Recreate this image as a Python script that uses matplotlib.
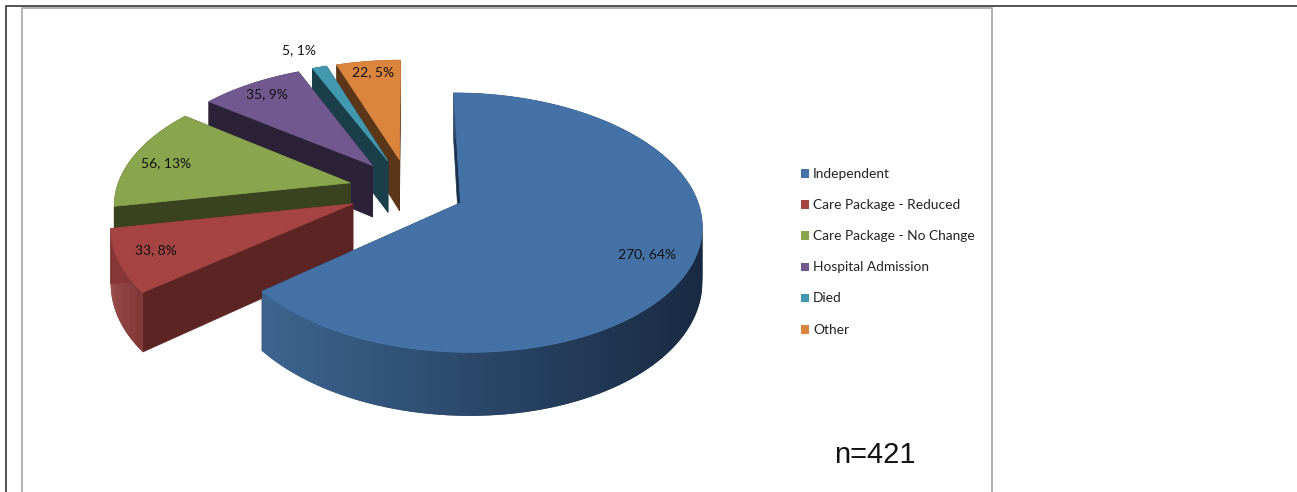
"""plot.py - exploded 3D-look pie of discharge outcomes, drawn in pixel coordinates."""
import numpy as np
import matplotlib; matplotlib.use("Agg")
import matplotlib.pyplot as plt
from matplotlib.patches import Polygon, Rectangle
from matplotlib.colors import to_rgb

categories = ["Independent", "Care Package - Reduced", "Care Package - No Change",
              "Hospital Admission", "Died", "Other"]
values = [270, 33, 56, 35, 5, 22]
percents = [64, 8, 13, 9, 1, 5]
top_colors = ["#4471a6", "#a54442", "#89a54e", "#71588f", "#4198af", "#db843d"]
face_colors = ["#1c3350", "#5c2423", "#3a431f", "#2c2238", "#1a3e4a", "#5c3618"]
wall_left = ["#3d6590", "#8f3b39", "#3a431f", "#2c2238", "#1a3e4a", "#5c3618"]
wall_right = ["#182a42", "#7f3735", "#3a431f", "#2c2238", "#1a3e4a", "#5c3618"]
explode = [0.24, 0.26, 0.26, 0.26, 0.26, 0.26]
label_pos = [(647, 254), (156, 250), (166, 163), (267, 94), (299, 50), (373, 72)]
n_label = "n=421"

# projection of the pie plane onto the page
CX, CY, R, SQ, PERSP, DEPTH = 409, 190, 234, 0.525, 0.15, 53


def proj(wx, wy, z=0.0):
    s = 1 / (1 - PERSP * wy)
    return CX + R * wx * s, CY + R * SQ * wy * s + z * s


def mix(a, b, t):
    a, b = np.array(to_rgb(a)), np.array(to_rgb(b))
    return tuple(a + (b - a) * t)


fig = plt.figure(figsize=(12.97, 4.92), dpi=100)
ax = fig.add_axes([0, 0, 1, 1])
ax.set_xlim(0, 1297); ax.set_ylim(492, 0); ax.axis("off")

# page table + chart box
ax.plot([5.5, 5.5, 1297], [492, 5.5, 5.5], color="#444444", lw=1.3)
ax.plot([21.5, 21.5, 991.5, 991.5], [492, 7.5, 7.5, 492], color="#aaaaaa", lw=1.3)

total = sum(values)
ends = np.cumsum(values) / total * 2 * np.pi
starts = np.r_[0, ends[:-1]]

# far slices first, the big one last
for i in [5, 4, 3, 2, 1, 0]:
    a0, a1 = starts[i], ends[i]
    mid = (a0 + a1) / 2
    ox, oy = explode[i] * np.sin(mid), -explode[i] * np.cos(mid)
    th = np.linspace(a0, a1, 120)
    wx, wy = ox + np.sin(th), oy - np.cos(th)
    # radial faces
    for a in (a0, a1):
        ex, ey = ox + np.sin(a), oy - np.cos(a)
        quad = [proj(ox, oy), proj(ex, ey), proj(ex, ey, DEPTH), proj(ox, oy, DEPTH)]
        ax.add_patch(Polygon(quad, closed=True, fc=face_colors[i], ec=face_colors[i], lw=0.5))
    # outer wall, shaded left to right; each strip overlaps the next so no seams show
    xs_all = proj(wx, wy)[0]
    for k in range(len(th) - 1):
        k2 = min(k + 2, len(th) - 1)
        quad = [proj(wx[k], wy[k]), proj(wx[k2], wy[k2]),
                proj(wx[k2], wy[k2], DEPTH), proj(wx[k], wy[k], DEPTH)]
        t = (xs_all[k] - xs_all.min()) / max(xs_all.max() - xs_all.min(), 1)
        c = mix(wall_left[i], wall_right[i], t)
        ax.add_patch(Polygon(quad, closed=True, fc=c, ec="none"))
    # top
    tx, ty = proj(np.r_[ox, wx], np.r_[oy, wy])
    ax.add_patch(Polygon(np.c_[tx, ty], closed=True, fc=top_colors[i], ec=top_colors[i], lw=0.5))

for (x, y), v, p in zip(label_pos, values, percents):
    ax.text(x, y, f"{v}, {p}%", ha="center", va="center", fontsize=10, family="Lato", color="#111111")

# legend
for i, name in enumerate(categories):
    y = 173.5 + i * 31.2
    ax.add_patch(Rectangle((801, y - 4.5), 8, 8.5, fc=top_colors[i], ec="none"))
    ax.text(813, y, name, ha="left", va="center", fontsize=9.9, family="Lato", color="#222222")

ax.text(875, 455, n_label, ha="center", va="center", fontsize=21, family="Liberation Sans", color="#111111")

fig.savefig("out.png", dpi=100)
